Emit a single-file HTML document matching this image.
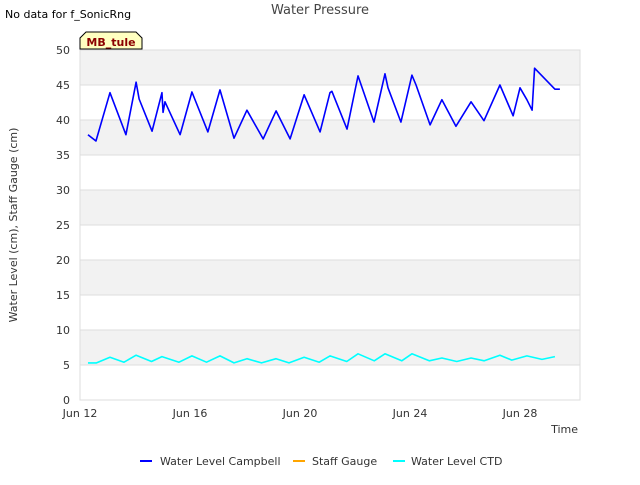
<!DOCTYPE html>
<html><head><meta charset="utf-8"><style>
body{margin:0;background:#fff;font-family:"Liberation Sans","DejaVu Sans",sans-serif}
svg text{font-family:"DejaVu Sans","Liberation Sans",sans-serif}
</style></head><body>
<svg id="c" width="640" height="480" xmlns="http://www.w3.org/2000/svg">
<rect width="640" height="480" fill="#fff"/>
<text x="5" y="18" font-size="11" fill="#000">No data for f_SonicRng</text>
<text x="320" y="14" font-size="13" fill="#444" text-anchor="middle">Water Pressure</text>
<g id="grid"></g>
<g id="axes"></g>
<g id="series"></g>
<g>
<path d="M80,49 L80,38 L86,32 L136,32 L142,38 L142,49 Z" fill="#ffffc0" stroke="#000" stroke-width="1"/>
<text x="111" y="46" font-size="11" font-weight="bold" fill="#8b0000" text-anchor="middle">MB_tule</text>
</g>
<text x="17" y="225" font-size="11" fill="#333" text-anchor="middle" transform="rotate(-90 17 225)">Water Level (cm), Staff Gauge (cm)</text>
<text x="578" y="433" font-size="11" fill="#333" text-anchor="end">Time</text>
<g>
<g><line x1="140" y1="461" x2="152" y2="461" stroke="#0000ff" stroke-width="2"/><text x="160" y="465" font-size="11" fill="#333">Water Level Campbell</text></g>
<g><line x1="293" y1="461" x2="305" y2="461" stroke="#ffa500" stroke-width="2"/><text x="312" y="465" font-size="11" fill="#333">Staff Gauge</text></g>
<g><line x1="393" y1="461" x2="405" y2="461" stroke="#00ffff" stroke-width="2"/><text x="411" y="465" font-size="11" fill="#333">Water Level CTD</text></g>
</g>
</svg>
<script>
const yTicks=[0,5,10,15,20,25,30,35,40,45,50];
const xTickDays=[0,4,8,12,16];
const xTickLabels=["Jun 12","Jun 16","Jun 20","Jun 24","Jun 28"];
const campbellDays=[0.29,0.58,1.09,1.67,2.04,2.15,2.62,2.98,3.02,3.09,3.64,4.07,4.65,5.09,5.6,6.07,6.66,7.13,7.64,8.15,8.73,9.09,9.16,9.71,10.11,10.69,11.09,11.2,11.67,12.07,12.22,12.73,13.16,13.67,14.22,14.69,15.27,15.75,16.0,16.25,16.44,16.53,17.27,17.45];
const campbellVals=[37.9,37.0,43.9,37.9,45.4,43.0,38.4,43.9,41.1,42.6,37.9,44.0,38.3,44.3,37.4,41.4,37.3,41.3,37.3,43.6,38.3,43.9,44.1,38.7,46.3,39.7,46.6,44.6,39.7,46.4,45.0,39.3,42.9,39.1,42.6,39.9,45.0,40.6,44.6,42.9,41.4,47.4,44.4,44.4];
const ctdDays=[0.29,0.6,1.09,1.6,2.04,2.6,2.98,3.6,4.07,4.6,5.09,5.6,6.07,6.6,7.13,7.6,8.15,8.7,9.09,9.7,10.11,10.7,11.09,11.7,12.07,12.7,13.16,13.7,14.22,14.7,15.27,15.7,16.25,16.8,17.27];
const ctdVals=[5.3,5.3,6.1,5.4,6.4,5.5,6.2,5.4,6.3,5.4,6.3,5.3,5.9,5.3,5.9,5.3,6.1,5.4,6.3,5.5,6.6,5.6,6.6,5.6,6.6,5.6,6.0,5.5,6.0,5.6,6.4,5.7,6.3,5.8,6.2];
const X0=80,X1=580,Y0=400,Y1=50;
const xs=d=>X0+d*27.5;
const ys=v=>Y0-(v/50)*(Y0-Y1);
const NS="http://www.w3.org/2000/svg";
function mk(tag,attrs,parent){const e=document.createElementNS(NS,tag);for(const k in attrs)e.setAttribute(k,attrs[k]);parent.appendChild(e);return e;}
const grid=document.getElementById('grid'),axes=document.getElementById('axes'),ser=document.getElementById('series');
for(let i=0;i<yTicks.length-1;i++){
  if(i%2===1){const r=mk('rect',{x:X0,y:ys(yTicks[i+1]),width:X1-X0,height:ys(yTicks[i])-ys(yTicks[i+1]),fill:'#f2f2f2'},grid);
  
  }
}
yTicks.forEach(v=>{
  const l=mk('line',{x1:X0,x2:X1,y1:ys(v),y2:ys(v),stroke:'#dddddd','stroke-width':1},grid);
  
  
  const t=mk('text',{x:X0-10,y:ys(v)+4,'font-size':11,fill:'#333','text-anchor':'end'},axes);
  t.textContent=v;
  
  
});
const frame=mk('rect',{x:X0,y:Y1,width:X1-X0,height:Y0-Y1,fill:'none',stroke:'#dddddd'},grid);


xTickDays.forEach((d,i)=>{
  const t=mk('text',{x:xs(d),y:Y0+17,'font-size':11,fill:'#333','text-anchor':'middle'},axes);
  t.textContent=xTickLabels[i];
  
  
});
function line(days,vals,color,name){
  const p=mk('polyline',{points:days.map((d,i)=>xs(d)+','+ys(vals[i])).join(' '),fill:'none',stroke:color,'stroke-width':1.6,'stroke-linejoin':'round'},ser);
  
  
}
line(ctdDays,ctdVals,'#00ffff','series-water-level-ctd');
line(campbellDays,campbellVals,'#0000ff','series-water-level-campbell');
</script>
</body></html>
